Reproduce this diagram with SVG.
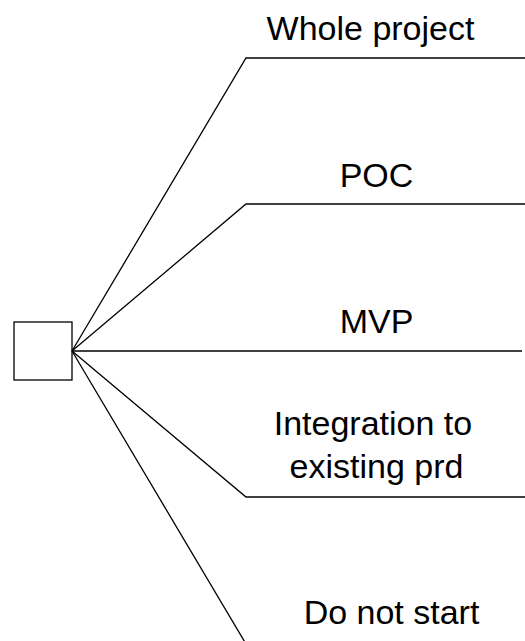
<svg xmlns="http://www.w3.org/2000/svg" width="525" height="641" viewBox="0 0 525 641">
<style>
.c{fill:none;stroke:#000;stroke-width:1.3}
.t{font-family:"Liberation Sans",Arial,sans-serif;font-size:34px;fill:#000;text-anchor:middle}
</style>
<rect width="525" height="641" fill="#fff"/>
<g id="connectors">
<polyline class="c" points="72,351 246,58 525,58"/>
<polyline class="c" points="72,351 246,204 525,204"/>
<polyline class="c" points="72,351 522,351"/>
<polyline class="c" points="72,351 246,497 525,497"/>
<polyline class="c" points="72,351 246,644 525,644"/>
</g>
<g id="decision"><rect class="c" x="14" y="322" width="58" height="58"/></g>
<g id="whole"><text class="t" x="370.5" y="40">Whole project</text></g>
<g id="poc"><text class="t" x="376.5" y="187">POC</text></g>
<g id="mvp"><text class="t" x="376.5" y="333">MVP</text></g>
<g id="integration"><text class="t" x="373" y="435">Integration to</text><text class="t" x="376.5" y="478">existing prd</text></g>
<g id="donot"><text class="t" x="391.5" y="624">Do not start</text></g>
</svg>
